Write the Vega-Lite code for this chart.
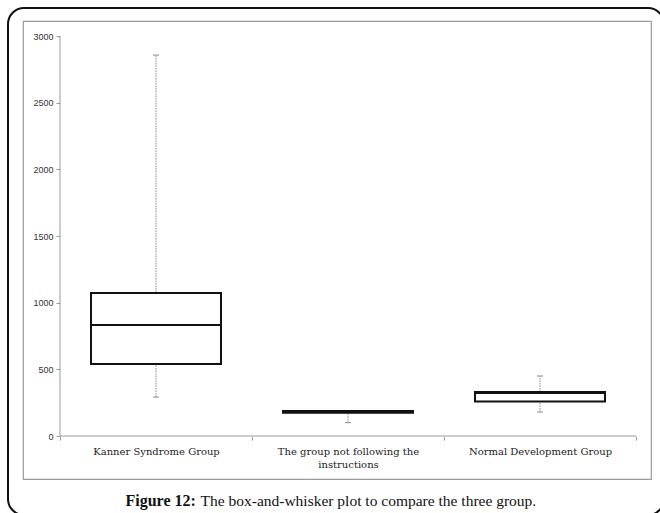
{
  "$schema": "https://vega.github.io/schema/vega-lite/v6.json",
  "autosize": {"type": "none"},
  "width": 628,
  "height": 458,
  "padding": {"left": 23, "top": 21, "right": 9, "bottom": 34},
  "background": "white",
  "config": {
    "view": {"stroke": "#9a9a9a", "strokeWidth": 1.2}
  },
  "datasets": {
    "groups": [
      {"group": "Kanner Syndrome Group", "min": 292, "q1": 540, "median": 832, "q3": 1072, "max": 2857},
      {"group": "The group not following the instructions", "min": 100, "q1": 174, "median": 182, "q3": 188, "max": 190},
      {"group": "Normal Development Group", "min": 180, "q1": 258, "median": 322, "q3": 330, "max": 450}
    ],
    "frame": [{"a": 0, "b": 1}]
  },
  "resolve": {"scale": {"x": "independent", "y": "independent"}},
  "layer": [
    {
      "data": {"name": "frame"},
      "mark": {"type": "rect", "fill": null, "fillOpacity": 0, "stroke": "#111", "strokeWidth": 2, "cornerRadius": 16, "clip": false},
      "encoding": {
        "x": {"field": "a", "type": "quantitative", "scale": {"domain": [0, 1], "range": [-15, 641]}, "axis": null},
        "x2": {"field": "b"},
        "y": {"field": "a", "type": "quantitative", "scale": {"domain": [0, 1], "range": [-13, 494]}, "axis": null},
        "y2": {"field": "b"}
      }
    },
    {
      "data": {"name": "groups"},
      "encoding": {
        "x": {
          "field": "group", "type": "nominal", "sort": null,
          "scale": {"type": "band", "paddingInner": 0, "paddingOuter": 0.1354, "align": 0.7115},
          "axis": {
            "orient": "bottom", "offset": -43, "domain": false, "grid": false,
            "ticks": true, "tickBand": "extent", "tickSize": 4, "tickColor": "#9a9a9a",
            "labelFont": "DejaVu Serif", "labelFontSize": 10, "labelColor": "#222", "labelPadding": 6, "labelAngle": 0,
            "labelLineHeight": 13, "labelLimit": 200,
            "labelExpr": "datum.value == 'The group not following the instructions' ? ['The group not following the', 'instructions'] : datum.label",
            "title": "The box-and-whisker plot to compare the three group.",
            "titleFont": "Liberation Serif", "titleFontSize": 15.5, "titleFontWeight": "normal", "titleColor": "#111",
            "titleX": 177, "titleY": 69, "titleAlign": "left", "titleAnchor": "start", "titleBaseline": "alphabetic"
          }
        }
      },
      "layer": [
        {
          "mark": {"type": "rule", "stroke": "#9a9a9a", "strokeWidth": 1},
          "transform": [{"filter": "datum.group == 'Kanner Syndrome Group'"}],
          "encoding": {
            "x": {"field": "group", "type": "nominal", "sort": null, "bandPosition": 0},
            "y": {"datum": 0, "type": "quantitative"},
            "y2": {"datum": 3000}
          }
        },
        {
          "mark": {"type": "tick", "color": "#9a9a9a", "size": 192, "thickness": 1, "opacity": 1},
          "encoding": {
            "y": {"datum": 0, "type": "quantitative"}
          }
        },
        {
          "mark": {"type": "rule", "stroke": "#8a8a8a", "strokeWidth": 1, "strokeDash": [1.5, 1]},
          "encoding": {
            "y": {
              "field": "min", "type": "quantitative",
              "scale": {"domain": [-322.5, 3112.5], "nice": false, "zero": false},
              "axis": {
                "orient": "left", "offset": -37, "domain": false, "grid": false,
                "values": [0, 500, 1000, 1500, 2000, 2500, 3000], "format": "d",
                "ticks": true, "tickSize": 4, "tickColor": "#9a9a9a",
                "labelFont": "Liberation Sans", "labelFontSize": 9, "labelColor": "#333", "labelPadding": 3,
                "title": "Figure 12:",
                "titleFont": "Liberation Serif", "titleFontSize": 16, "titleFontWeight": "bold", "titleColor": "#111",
                "titleAngle": 0, "titleX": 65, "titleY": 484, "titleAlign": "left", "titleAnchor": "start", "titleBaseline": "alphabetic"
              }
            },
            "y2": {"field": "max"}
          }
        },
        {
          "transform": [{"fold": ["min", "max"], "as": ["stat", "v"]}],
          "mark": {"type": "tick", "color": "#8a8a8a", "size": 6, "thickness": 1, "opacity": 1},
          "encoding": {
            "y": {"field": "v", "type": "quantitative"}
          }
        },
        {
          "mark": {"type": "bar", "width": 130, "fill": "white", "stroke": "#111", "strokeWidth": 2},
          "encoding": {
            "y": {"field": "q1", "type": "quantitative"},
            "y2": {"field": "q3"}
          }
        },
        {
          "mark": {"type": "tick", "color": "#111", "size": 130, "thickness": 2, "opacity": 1},
          "encoding": {
            "y": {"field": "median", "type": "quantitative"}
          }
        }
      ]
    }
  ]
}
